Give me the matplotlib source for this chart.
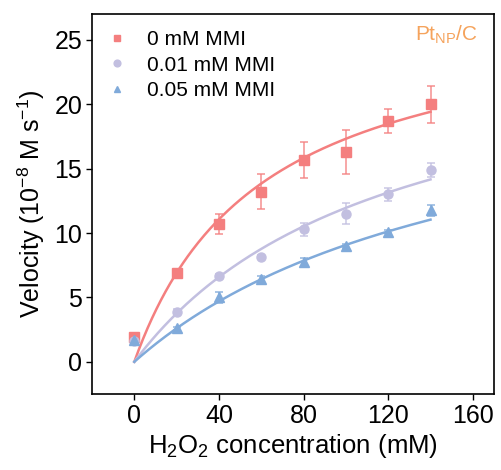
import matplotlib.pyplot as plt
import numpy as np

plt.rcParams["font.family"] = ["Liberation Sans", "DejaVu Sans"]
plt.rcParams["mathtext.fontset"] = "custom"
plt.rcParams["mathtext.rm"] = "Liberation Sans"
plt.rcParams["mathtext.it"] = "Liberation Sans"

conc = [0, 20, 40, 60, 80, 100, 120, 140]
labels = ["0 mM MMI", "0.01 mM MMI", "0.05 mM MMI"]
v_0 = [1.9, 6.9, 10.7, 13.2, 15.7, 16.3, 18.7, 20.0]
err_0 = [0.2, 0.2, 0.8, 1.35, 1.4, 1.7, 0.95, 1.45]
v_001 = [1.6, 3.9, 6.7, 8.15, 10.3, 11.5, 13.0, 14.9]
err_001 = [0.2, 0.2, 0.15, 0.15, 0.5, 0.8, 0.5, 0.55]
v_005 = [1.7, 2.6, 5.0, 6.4, 7.75, 9.0, 10.1, 11.75]
err_005 = [0.2, 0.1, 0.4, 0.3, 0.3, 0.15, 0.1, 0.4]
# Michaelis-Menten fit parameters (Vmax, Km)
fits = [(27.8, 60.5), (26.3, 120.0), (24.05, 165.0)]

colors = ["#f47f7f", "#c2bfe0", "#80aada"]
markers = ["s", "o", "^"]
series = [(v_0, err_0), (v_001, err_001), (v_005, err_005)]

fig = plt.figure(figsize=(5.01, 4.70), dpi=100)
ax = fig.add_axes([0.1836, 0.1617, 0.8024, 0.8083])

xs = np.linspace(0, 140, 200)
for (vals, errs), (vmax, km), c, m, lab in zip(series, fits, colors, markers, labels):
    eb = ax.errorbar(conc, vals, yerr=errs, fmt=m, color=c, ms=6.5, capsize=3,
                     elinewidth=1.2, capthick=1.2, ecolor=c, label=lab)
    for part in eb[1] + eb[2]:
        part.set_alpha(0.8)
    ax.plot(xs, vmax * xs / (km + xs), color=c, lw=1.8)

ax.set_xlim(-20, 170)
ax.set_ylim(-2.5, 27)
ax.set_xticks([0, 40, 80, 120, 160])
ax.set_yticks([0, 5, 10, 15, 20, 25])
ax.tick_params(labelsize=18, direction="out", length=4, width=1, pad=3)
for s in ax.spines.values():
    s.set_linewidth(1.2)
ax.set_xlabel("H$_2$O$_2$ concentration (mM)", fontsize=18.5, labelpad=3)
ax.set_ylabel("Velocity (10$^{-8}$ M s$^{-1}$)", fontsize=18, labelpad=5)

ax.text(0.96, 0.945, "Pt$_{\\mathrm{NP}}$/C", transform=ax.transAxes, ha="right",
        va="center", fontsize=15, color="#f5a35c")

handles, labs = ax.get_legend_handles_labels()
handles = [h[0] for h in handles]
ax.legend(handles, labs, loc="upper left", frameon=False, fontsize=15,
          handlelength=0.8, handletextpad=1.0, labelspacing=0.3,
          borderaxespad=0.0, markerscale=0.75, bbox_to_anchor=(0.022, 0.979))

fig.savefig("out.png", dpi=100)
